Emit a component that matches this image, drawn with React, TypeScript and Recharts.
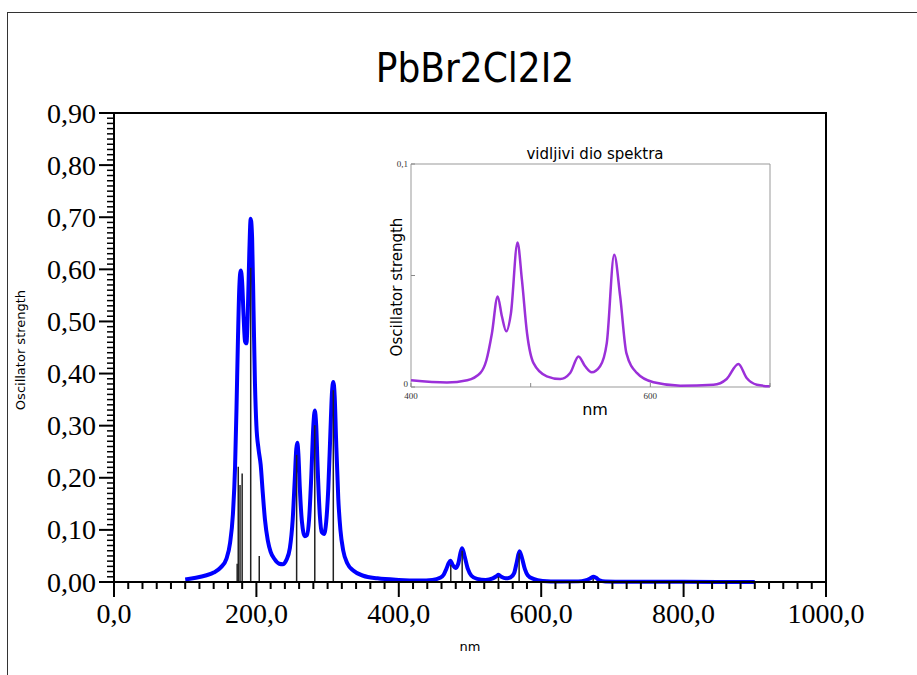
import React from 'react';
import { LineChart, Line, XAxis, YAxis, ReferenceLine, ReferenceArea } from 'recharts';

// broadened spectrum (blue)
const spectrumNm = [
  100, 115, 130, 140, 150, 158, 163, 167, 170, 172, 174, 176, 178, 180, 182, 184, 186, 188, 190, 192,
  194, 196, 198, 200, 203, 206, 209, 212, 216, 220, 226, 232, 237, 242, 247, 251, 254, 256, 257.5, 259,
  261, 264, 268, 271, 274, 277, 280, 282, 284, 286, 289, 292, 295, 298, 301, 304, 306, 308, 310, 312,
  315, 318, 322, 328, 336, 350, 370, 400, 430, 447, 458, 463, 467, 470, 472.5, 476, 479.5, 483.5, 486.5, 489,
  492.5, 497, 502, 510, 522, 532, 537, 540, 544, 550, 557, 562, 566, 569.5, 573, 577, 581, 589, 602, 625,
  652, 662, 669, 673.5, 677, 682, 690, 720, 800, 900,
];
const spectrumF = [
  0.005, 0.008, 0.013, 0.018, 0.028, 0.045, 0.075, 0.13, 0.22, 0.33, 0.46, 0.565, 0.598, 0.575, 0.51, 0.462, 0.458, 0.52, 0.63, 0.697,
  0.66, 0.52, 0.38, 0.3, 0.255, 0.225, 0.17, 0.12, 0.08, 0.058, 0.043, 0.035, 0.034, 0.042, 0.065, 0.12, 0.2, 0.255, 0.267, 0.245,
  0.18, 0.115, 0.088, 0.09, 0.12, 0.2, 0.3, 0.329, 0.3, 0.22, 0.13, 0.095, 0.092, 0.115, 0.18, 0.29, 0.36, 0.384, 0.355, 0.27,
  0.16, 0.1, 0.06, 0.035, 0.022, 0.012, 0.007, 0.004, 0.003, 0.004, 0.008, 0.014, 0.026, 0.036, 0.041, 0.032, 0.027, 0.035, 0.055, 0.065,
  0.049, 0.025, 0.012, 0.006, 0.004, 0.007, 0.011, 0.0138, 0.01, 0.007, 0.009, 0.017, 0.04, 0.059, 0.046, 0.025, 0.013, 0.006, 0.002, 0.001,
  0.0012, 0.003, 0.007, 0.0103, 0.008, 0.003, 0.001, 0.0005, 0.0003, 0.0002,
];

// individual transitions (black sticks)
const stickNm = [173, 174.5, 177, 180, 192, 204, 256.5, 282, 308, 473, 489, 540, 569, 673];
const stickF = [0.035, 0.221, 0.186, 0.208, 0.603, 0.05, 0.244, 0.301, 0.368, 0.033, 0.06, 0.01, 0.055, 0.006];

// inset: visible part of the spectrum
const visibleNm = [
  400, 430, 447, 458, 463, 467.6, 472.4, 476, 479.6, 483.5, 489, 492.7, 497, 502.4, 513.5, 524.7, 533, 540,
  545.5, 551, 558, 563.6, 569.8, 574.8, 580, 588.7, 602.6, 625, 652.7, 663.8, 673.6, 680.5, 689, 700,
];
const visibleF = [
  0.003, 0.002, 0.003, 0.0063, 0.012, 0.024, 0.0406, 0.0316, 0.025, 0.033, 0.0648, 0.048, 0.024, 0.0107, 0.0048, 0.0036, 0.0063, 0.0137,
  0.0093, 0.0066, 0.0093, 0.0197, 0.0593, 0.0406, 0.0152, 0.0063, 0.0021, 0.0006, 0.001, 0.0036, 0.0103, 0.004, 0.001, 0.0003,
];

const xMajor = [0, 200, 400, 600, 800, 1000];
const xMajorLabels = ['0,0', '200,0', '400,0', '600,0', '800,0', '1000,0'];
const yMajorLabels = ['0,00', '0,10', '0,20', '0,30', '0,40', '0,50', '0,60', '0,70', '0,80', '0,90'];
const xMinorStep = 20;
const yMinorStep = 0.01;

const insetXTicks = [400, 500, 600, 700];
const insetXLabels = ['400', '', '600', ''];
const insetYTicks = [0, 0.05, 0.1];
const insetYLabels = ['0', '', '0,1'];

const mainData = spectrumNm.map((nm, i) => ({ nm, f: spectrumF[i] }));
const visibleData = visibleNm.map((nm, i) => ({ nm, f: visibleF[i] }));
const xTicks = Array.from({ length: 1000 / xMinorStep + 1 }, (_, i) => i * xMinorStep);
const yTicks = Array.from({ length: Math.round(0.9 / yMinorStep) + 1 }, (_, i) => Math.round(i) / 100);

const serif = "'Liberation Serif', 'DejaVu Serif', serif";
const sans = "'DejaVu Sans', 'Noto Sans', sans-serif";

function MainXTick(props: any) {
  const { x, y, payload } = props;
  const k = xMajor.indexOf(Math.round(payload.value));
  const major = k >= 0;
  return (
    <g>
      <line x1={x} x2={x} y1={y} y2={y + (major ? 15 : 7)} stroke="#000" strokeWidth={2} />
      {major && (
        <text x={x} y={y + 31} textAnchor="middle" dominantBaseline="central" fontFamily={serif} fontSize={28} fill="#000">
          {xMajorLabels[k]}
        </text>
      )}
    </g>
  );
}

function MainYTick(props: any) {
  const { x, y, payload } = props;
  const hundredths = Math.round(payload.value * 100);
  const major = hundredths % 10 === 0;
  return (
    <g>
      <line x1={x - (major ? 15 : 7)} x2={x} y1={y} y2={y} stroke="#000" strokeWidth={major ? 2 : 1.5} />
      {major && (
        <text x={x - 18} y={y} textAnchor="end" dominantBaseline="central" fontFamily={serif} fontSize={28} fill="#000">
          {yMajorLabels[hundredths / 10]}
        </text>
      )}
    </g>
  );
}

function InsetBottomTick(props: any) {
  const { x, y, payload } = props;
  const k = insetXTicks.indexOf(payload.value);
  return (
    <g>
      <line x1={x} x2={x} y1={y} y2={y - 4} stroke="#888" />
      <text x={x} y={y + 9} textAnchor="middle" dominantBaseline="central" fontFamily={serif} fontSize={9} fill="#333">
        {insetXLabels[k]}
      </text>
    </g>
  );
}

function InsetTopTick(props: any) {
  const { x, y } = props;
  return <line x1={x} x2={x} y1={y} y2={y + 4} stroke="#888" />;
}

function InsetLeftTick(props: any) {
  const { x, y, payload } = props;
  const k = insetYTicks.indexOf(payload.value);
  return (
    <g>
      <line x1={x} x2={x + 4} y1={y} y2={y} stroke="#888" />
      <text x={x - 3} y={k === 0 ? y - 3 : y} textAnchor="end" dominantBaseline="central" fontFamily={serif} fontSize={9} fill="#333">
        {insetYLabels[k]}
      </text>
    </g>
  );
}

function InsetRightTick(props: any) {
  const { x, y } = props;
  return <line x1={x} x2={x - 4} y1={y} y2={y} stroke="#888" />;
}

function Inset() {
  return (
    <LineChart width={400} height={280} data={visibleData} margin={{ top: 24, right: 10, bottom: 17, left: 0 }}>
      <XAxis dataKey="nm" type="number" domain={[400, 700]} ticks={insetXTicks} interval={0}
        axisLine={false} tickLine={false} tickSize={0} tickMargin={0} height={16} tick={<InsetBottomTick />} />
      <XAxis xAxisId="top" orientation="top" dataKey="nm" type="number" domain={[400, 700]} ticks={insetXTicks} interval={0}
        axisLine={false} tickLine={false} tickSize={0} tickMargin={0} height={0} tick={<InsetTopTick />} />
      <YAxis type="number" domain={[0, 0.1]} ticks={insetYTicks} interval={0} width={31}
        axisLine={false} tickLine={false} tickSize={0} tickMargin={0} tick={<InsetLeftTick />} />
      <YAxis yAxisId="right" orientation="right" type="number" domain={[0, 0.1]} ticks={insetYTicks} interval={0} width={0}
        axisLine={false} tickLine={false} tickSize={0} tickMargin={0} tick={<InsetRightTick />} />
      <ReferenceArea x1={400} x2={700} y1={0} y2={0.1} fill="none" stroke="#999" strokeWidth={1} />
      <Line xAxisId="top" yAxisId="right" dataKey="f" stroke="none" dot={false} activeDot={false} isAnimationActive={false} />
      <Line type="monotone" dataKey="f" stroke="#9b30d9" strokeWidth={2.5} dot={false} activeDot={false} isAnimationActive={false} />
    </LineChart>
  );
}

export default function App() {
  return (
    <div style={{ position: 'absolute', left: 0, top: 0, width: 917, height: 675, overflow: 'hidden', background: '#fff' }}>
      <div style={{ position: 'absolute', left: 7, top: 12, width: 920, height: 700, borderTop: '1px solid #333', borderLeft: '1px solid #333' }} />
      <LineChart width={917} height={675} data={mainData} margin={{ top: 113, right: 91, bottom: 33, left: 0 }}>
        <XAxis dataKey="nm" type="number" domain={[0, 1000]} ticks={xTicks} interval={0} height={60}
          axisLine={{ stroke: '#000', strokeWidth: 2 }} tickLine={false} tickSize={0} tickMargin={0} tick={<MainXTick />} />
        <YAxis type="number" domain={[0, 0.9]} ticks={yTicks} interval={0} width={114}
          axisLine={{ stroke: '#000', strokeWidth: 2 }} tickLine={false} tickSize={0} tickMargin={0} tick={<MainYTick />} />
        <ReferenceArea x1={0} x2={1000} y1={0} y2={0.9} fill="none" stroke="#000" strokeWidth={2} />
        <Line type="monotone" dataKey="f" stroke="#0000ff" strokeWidth={4} dot={false} activeDot={false} isAnimationActive={false} />
        {stickNm.map((nm, i) => (
          <ReferenceLine key={i} segment={[{ x: nm, y: 0 }, { x: nm, y: stickF[i] }]} stroke="#222" strokeWidth={1.5} />
        ))}
      </LineChart>
      <div style={{ position: 'absolute', left: 380, top: 140 }}>
        <Inset />
      </div>
      <div style={{ position: 'absolute', left: 275, width: 400, top: 42, textAlign: 'center', fontFamily: "'DejaVu Sans Condensed', 'DejaVu Sans', sans-serif", fontStretch: 'condensed', fontSize: 40, lineHeight: '52px' }}>
        PbBr2Cl2I2
      </div>
      <div style={{ position: 'absolute', left: 20, top: 350, transform: 'translate(-50%, -50%) rotate(-90deg)', whiteSpace: 'nowrap', fontFamily: sans, fontSize: 13 }}>
        Oscillator strength
      </div>
      <div style={{ position: 'absolute', left: 470, top: 646, transform: 'translate(-50%, -50%)', fontFamily: sans, fontSize: 13 }}>
        nm
      </div>
      <div style={{ position: 'absolute', left: 595, top: 154, transform: 'translate(-50%, -50%)', whiteSpace: 'nowrap', fontFamily: sans, fontSize: 15 }}>
        vidljivi dio spektra
      </div>
      <div style={{ position: 'absolute', left: 397, top: 287, transform: 'translate(-50%, -50%) rotate(-90deg)', whiteSpace: 'nowrap', fontFamily: sans, fontSize: 15 }}>
        Oscillator strength
      </div>
      <div style={{ position: 'absolute', left: 595, top: 409, transform: 'translate(-50%, -50%)', fontFamily: sans, fontSize: 16 }}>
        nm
      </div>
    </div>
  );
}
